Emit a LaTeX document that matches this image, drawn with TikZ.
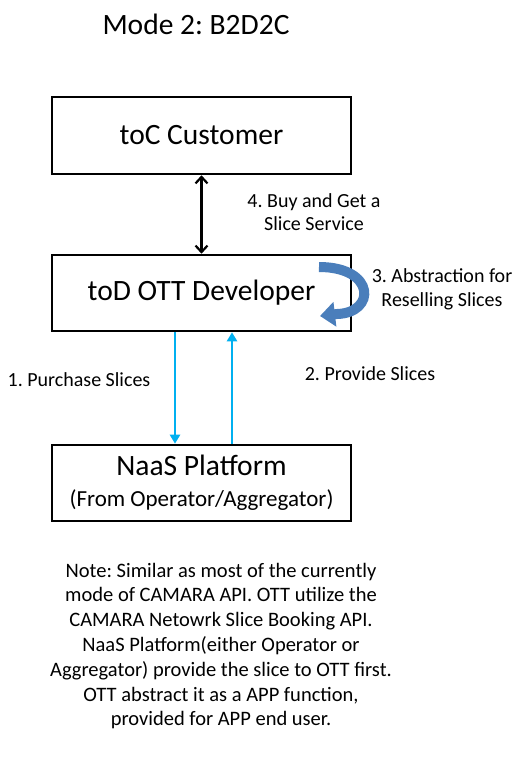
\documentclass[tikz,border=0pt]{standalone}
\usepackage{fontspec}
\setmainfont{Carlito}
\usepackage{tikz}
\usetikzlibrary{arrows.meta, positioning, calc}

\definecolor{sliceblue}{HTML}{00B0F0}
\definecolor{loopblue}{HTML}{4A7EBB}
\frenchspacing

\begin{document}
\begin{tikzpicture}[x=1pt, y=-1pt,
    block/.style={rectangle, draw=black, line width=2.6pt, minimum width=299pt, minimum height=76pt, inner sep=0pt, align=center, font=\fontsize{29.5}{34}\selectfont},
    lbl/.style={align=center, font=\fontsize{20}{23.5}\selectfont},
    flow/.style={sliceblue, line width=2.4pt, -{Triangle[length=9pt, width=10pt]}}]
        \useasboundingbox (0,0) rectangle (517,771);
        \def\boxx{201.5}

        % Title
        \node[font=\fontsize{29.5}{34}\selectfont] (title) at (196,24) {Mode 2: B2D2C};

        % The three parties
        \node[block, minimum height=77pt] at (\boxx,135.5) (toc) {toC Customer};
        \node[block] at (\boxx,293) (tod) {toD OTT Developer};
        \node[block] at (\boxx,483) (naas) {NaaS Platform\\[-3pt]{\fontsize{23}{27}\selectfont (From Operator/Aggregator)}};

        % Customer <-> developer
        \draw[line width=2.2pt, {Straight Barb[length=6.5pt, width=12pt]}-{Straight Barb[length=6.5pt, width=12pt]}] (toc.south) -- (tod.north);
        \node[lbl] (buy) at (314,212) {4. Buy and Get a\\Slice Service};

        % Developer <-> platform
        \draw[flow] ([xshift=-26.5pt]tod.south) -- ([xshift=-26.5pt]naas.north);
        \draw[flow] ([xshift=30.5pt]naas.north) -- ([xshift=30.5pt]tod.south);
        \node[lbl] (purchase) at (79,380) {1. Purchase Slices};
        \node[lbl] (provide) at (370,374) {2. Provide Slices};

        % Abstraction loop
        \draw[loopblue, line width=10pt, -{Triangle[length=15pt, width=24pt]}] (319,267) .. controls (376,267) and (376,313) .. (337,314) -- (320,316);
        \node[lbl] (abstract) at (442,289.5) {3. Abstraction for\\Reselling Slices};

        % Note
        \node[lbl, font=\fontsize{20.5}{24.8}\selectfont] (note) at (221,646) {Note: Similar as most of the currently\\mode of CAMARA API. OTT utilize the\\CAMARA Netowrk Slice Booking API.\\NaaS Platform(either Operator or\\Aggregator) provide the slice to OTT first.\\OTT abstract it as a APP function,\\provided for APP end user.};

    \end{tikzpicture}
\end{document}
